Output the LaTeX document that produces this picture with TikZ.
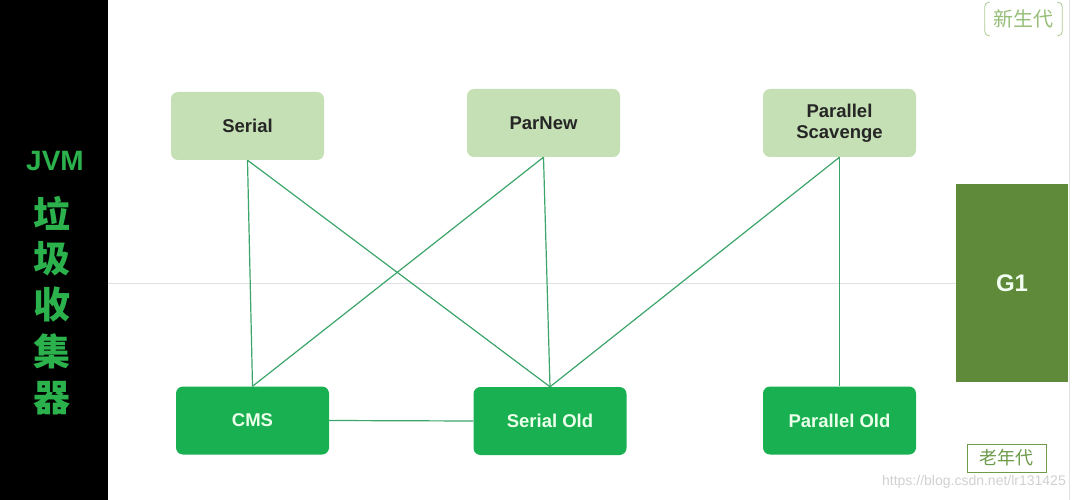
\documentclass[tikz,border=0pt]{standalone}
\usepackage{fontspec}
\setmainfont{Liberation Sans}
\newfontfamily\cjk{Noto Sans CJK SC}
\definecolor{lightbox}{RGB}{197,224,180}
\definecolor{darkbox}{RGB}{24,176,80}
\definecolor{gone}{RGB}{95,138,58}
\definecolor{linkc}{RGB}{60,165,105}
\definecolor{titlec}{RGB}{44,178,76}
\definecolor{tagc}{RGB}{150,190,120}
\definecolor{oldc}{RGB}{110,155,75}
\tikzset{
  young/.style={draw=none,fill=lightbox,rounded corners=7pt,minimum width=153pt,minimum height=68pt,font=\fontsize{18.5}{21}\selectfont\bfseries,text=black!85,align=center},
  tenured/.style={draw=none,fill=darkbox,rounded corners=7pt,minimum width=153pt,minimum height=68pt,font=\fontsize{18.5}{21}\selectfont\bfseries,text=white!92!green},
  link/.style={draw=linkc,line width=1.2pt},
  bracket/.style={draw=tagc!80,line width=0.8pt,rounded corners=4pt},
  titlechar/.style={text=titlec,font=\cjk\bfseries\fontsize{37}{38}\selectfont,inner sep=0pt},
}
\begin{document}
\begin{tikzpicture}[x=1pt,y=-1pt]
\useasboundingbox (0,0) rectangle (1074,500);
\fill[white] (0,0) rectangle (1074,500);
\fill[black] (0,0) rectangle (108,500);
\draw[black!12,line width=0.8pt] (1069,0) -- (1069,500);
% title
\node[text=titlec,font=\fontsize{28}{30}\selectfont\bfseries,inner sep=0pt] (jvm) at (55,161) {JVM};
\node[titlechar] (c1) at (52,213) {垃};
\node[titlechar] (c2) at (52,259) {圾};
\node[titlechar] (c3) at (52,305) {收};
\node[titlechar] (c4) at (52,351) {集};
\node[titlechar] (c5) at (52,398) {器};
% divider
\coordinate (dl) at (108,283);
\coordinate (dr) at (956,283);
\draw[blue!20!black!12,line width=0.8pt] (dl) -- (dr);
% nodes
\node[young] (serial) at (247.5,126) {Serial};
\node[young] (parnew) at (543.5,123) {ParNew};
\node[young] (ps) at (839.5,123) {Parallel\\Scavenge};
\node[tenured] (cms) at (252.5,420.5) {CMS};
\node[tenured] (so) at (550,421) {Serial Old};
\node[tenured] (po) at (839.5,420.5) {Parallel Old};
\node[fill=gone,minimum width=112pt,minimum height=198pt,inner sep=0pt,text=white!95!green,font=\fontsize{24}{26}\selectfont\bfseries] (g1) at (1012,283) {G1};
% links
\draw[link] (serial.south) -- (cms.north);
\draw[link] (serial.south) -- (so.north);
\draw[link] (parnew.south) -- (cms.north);
\draw[link] (parnew.south) -- (so.north);
\draw[link] (ps.south) -- (so.north);
\draw[link] (ps.south) -- (po.north);
\draw[link] (cms.east) -- (so.west);
% tags
\node[text=tagc,font=\cjk\fontsize{20}{22}\selectfont,minimum width=77pt,minimum height=33pt,inner sep=0pt] (young) at (1023.5,19) {新生代};
\draw[bracket] ([xshift=5pt]young.north west) -- (young.north west) -- (young.south west) -- ([xshift=5pt]young.south west);
\draw[bracket] ([xshift=-5pt]young.north east) -- (young.north east) -- (young.south east) -- ([xshift=-5pt]young.south east);
\node[draw=oldc,line width=0.9pt,text=oldc,font=\cjk\fontsize{18}{20}\selectfont,minimum width=79pt,minimum height=28pt,inner sep=0pt] (old) at (1006.5,458) {老年代};
\node[text=black!18,font=\fontsize{14}{16}\selectfont,anchor=east,inner sep=0pt] (wm) at (1066,482) {https://blog.csdn.net/lr131425};
\end{tikzpicture}
\end{document}
